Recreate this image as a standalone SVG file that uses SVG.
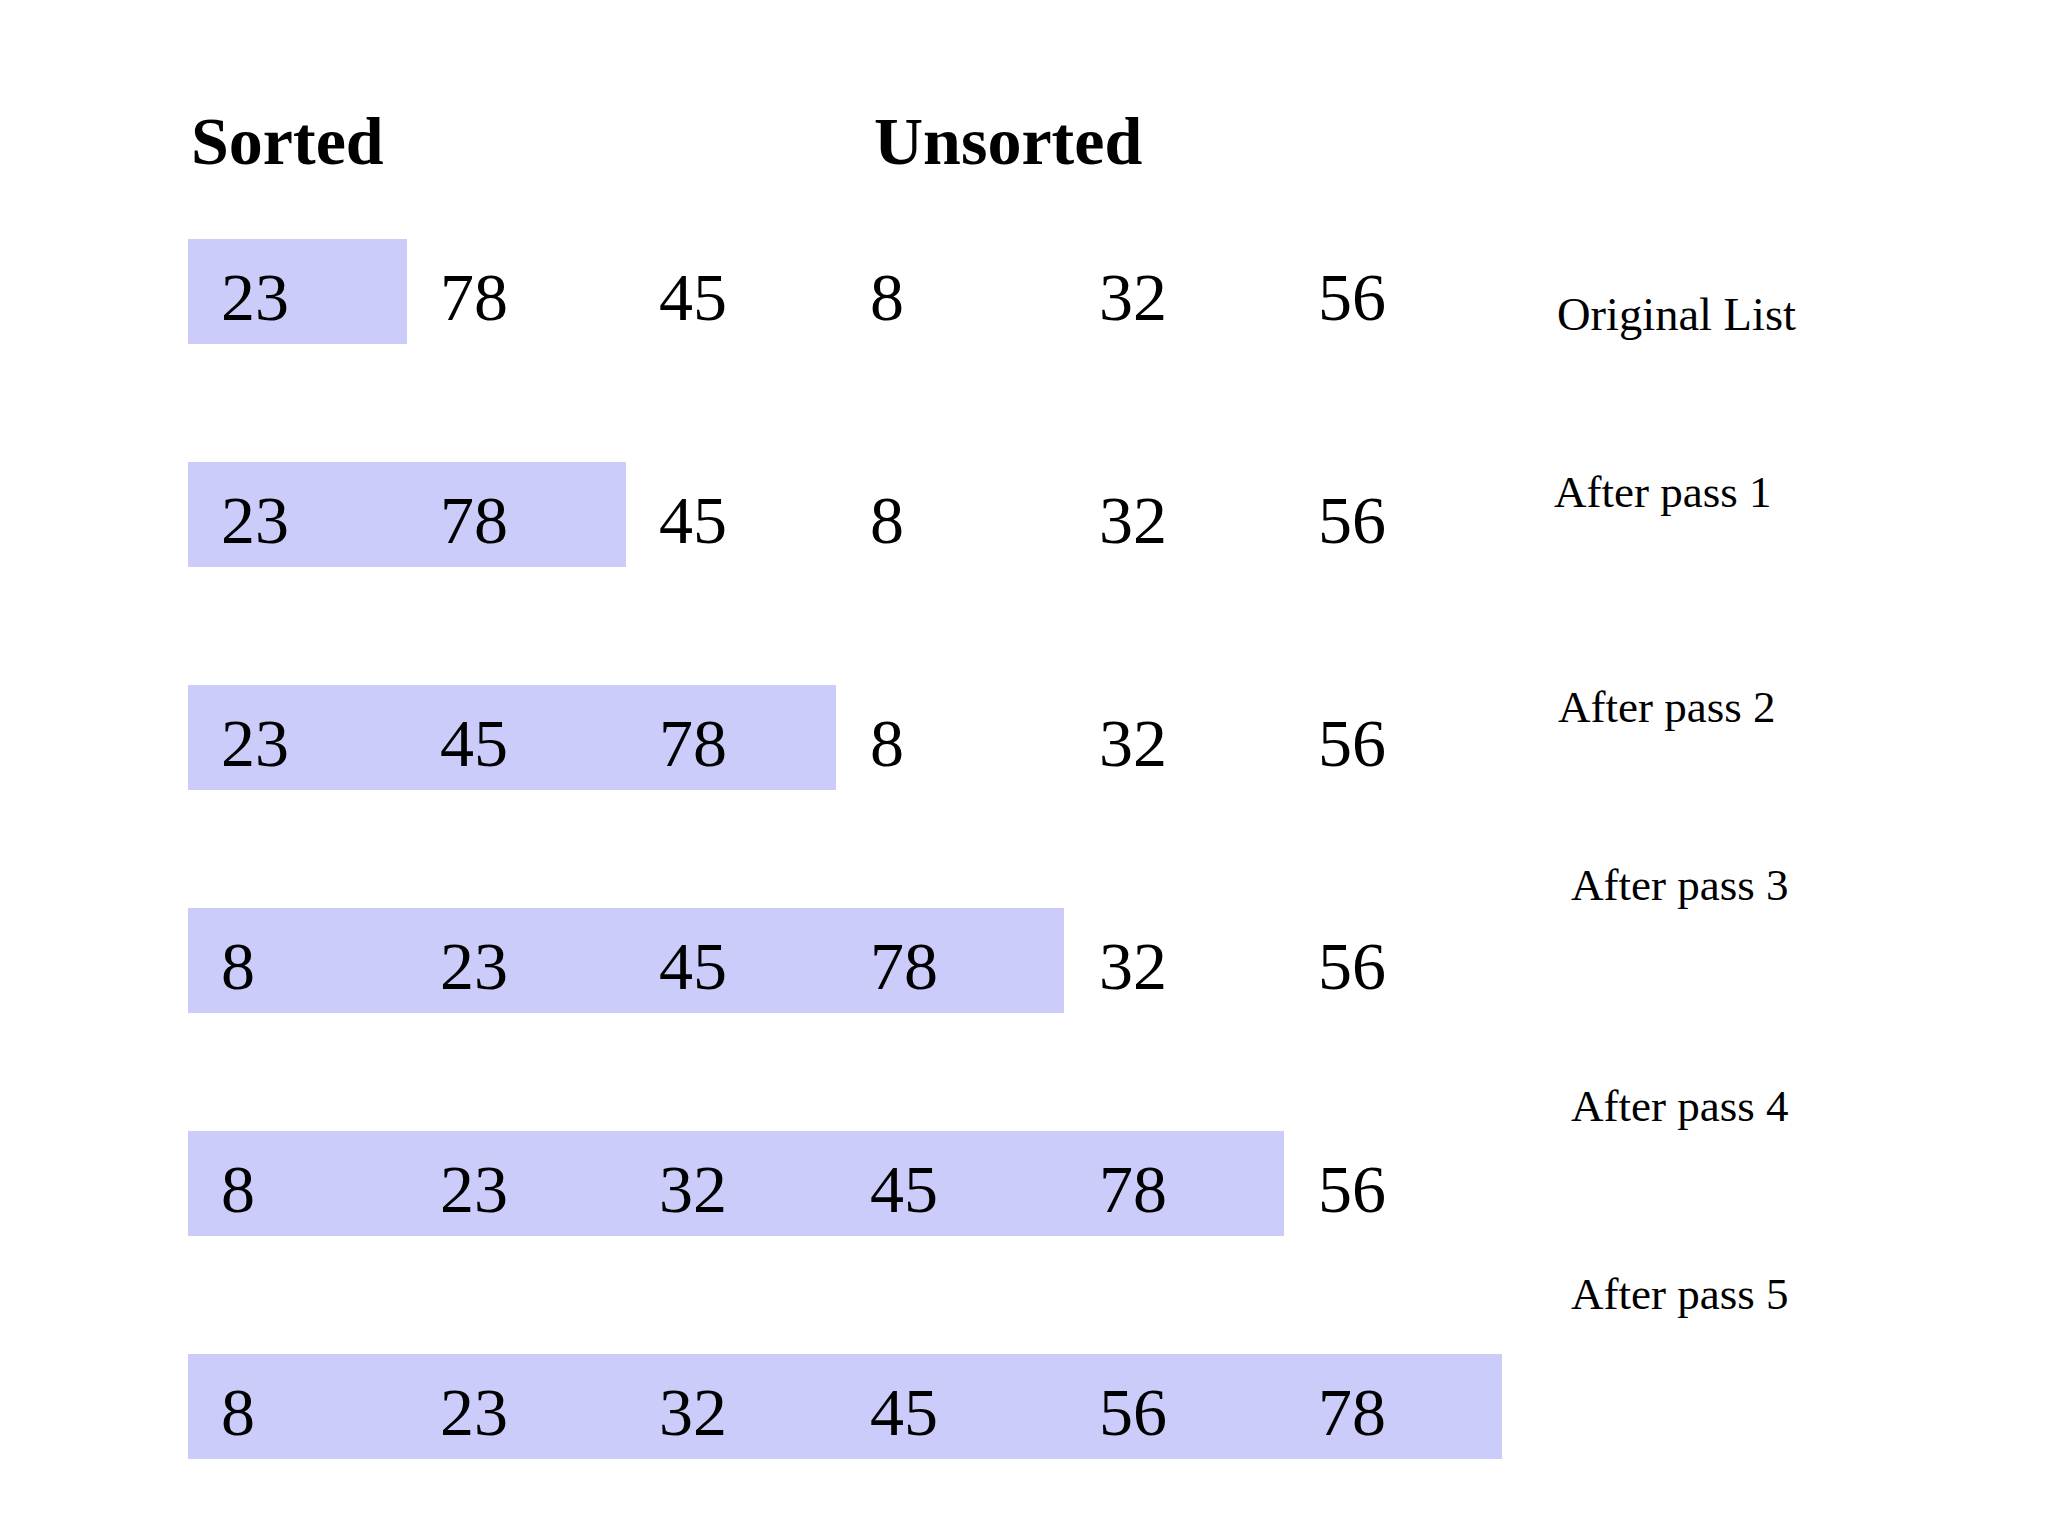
<svg xmlns="http://www.w3.org/2000/svg" width="2048" height="1536" viewBox="0 0 2048 1536">
<style>
.bg{fill:#ffffff}
.bar{fill:#ccccfa}
.num{font-family:"Liberation Serif","Times New Roman",serif;font-size:68px;fill:#000}
.hdr{font-family:"Liberation Serif","Times New Roman",serif;font-size:68px;font-weight:bold;fill:#000}
.lbl{font-family:"Liberation Serif","Times New Roman",serif;font-size:45px;fill:#000}
.big{font-size:46.5px}
</style>
<rect class="bg" x="0" y="0" width="2048" height="1536"/>
<g id="headers">
<text class="hdr" x="191" y="164">Sorted</text>
<text class="hdr" x="874" y="164">Unsorted</text>
</g>
<g id="row0">
<rect class="bar" x="188" y="239" width="219" height="105"/>
<text class="num" x="221" y="320">23</text>
<text class="num" x="440" y="320">78</text>
<text class="num" x="659" y="320">45</text>
<text class="num" x="870" y="320">8</text>
<text class="num" x="1099" y="320">32</text>
<text class="num" x="1318" y="320">56</text>
<text class="lbl big" x="1557" y="330">Original List</text>
</g>
<g id="row1">
<rect class="bar" x="188" y="462" width="438" height="105"/>
<text class="num" x="221" y="543">23</text>
<text class="num" x="440" y="543">78</text>
<text class="num" x="659" y="543">45</text>
<text class="num" x="870" y="543">8</text>
<text class="num" x="1099" y="543">32</text>
<text class="num" x="1318" y="543">56</text>
<text class="lbl" x="1554" y="507">After pass 1</text>
</g>
<g id="row2">
<rect class="bar" x="188" y="685" width="648" height="105"/>
<text class="num" x="221" y="766">23</text>
<text class="num" x="440" y="766">45</text>
<text class="num" x="659" y="766">78</text>
<text class="num" x="870" y="766">8</text>
<text class="num" x="1099" y="766">32</text>
<text class="num" x="1318" y="766">56</text>
<text class="lbl" x="1558" y="722">After pass 2</text>
</g>
<g id="row3">
<rect class="bar" x="188" y="908" width="876" height="105"/>
<text class="num" x="221" y="989">8</text>
<text class="num" x="440" y="989">23</text>
<text class="num" x="659" y="989">45</text>
<text class="num" x="870" y="989">78</text>
<text class="num" x="1099" y="989">32</text>
<text class="num" x="1318" y="989">56</text>
<text class="lbl" x="1571" y="900">After pass 3</text>
</g>
<g id="row4">
<rect class="bar" x="188" y="1131" width="1096" height="105"/>
<text class="num" x="221" y="1212">8</text>
<text class="num" x="440" y="1212">23</text>
<text class="num" x="659" y="1212">32</text>
<text class="num" x="870" y="1212">45</text>
<text class="num" x="1099" y="1212">78</text>
<text class="num" x="1318" y="1212">56</text>
<text class="lbl" x="1571" y="1121">After pass 4</text>
</g>
<g id="row5">
<rect class="bar" x="188" y="1354" width="1314" height="105"/>
<text class="num" x="221" y="1435">8</text>
<text class="num" x="440" y="1435">23</text>
<text class="num" x="659" y="1435">32</text>
<text class="num" x="870" y="1435">45</text>
<text class="num" x="1099" y="1435">56</text>
<text class="num" x="1318" y="1435">78</text>
<text class="lbl" x="1571" y="1309">After pass 5</text>
</g>
<g id="connectors"></g>
</svg>
